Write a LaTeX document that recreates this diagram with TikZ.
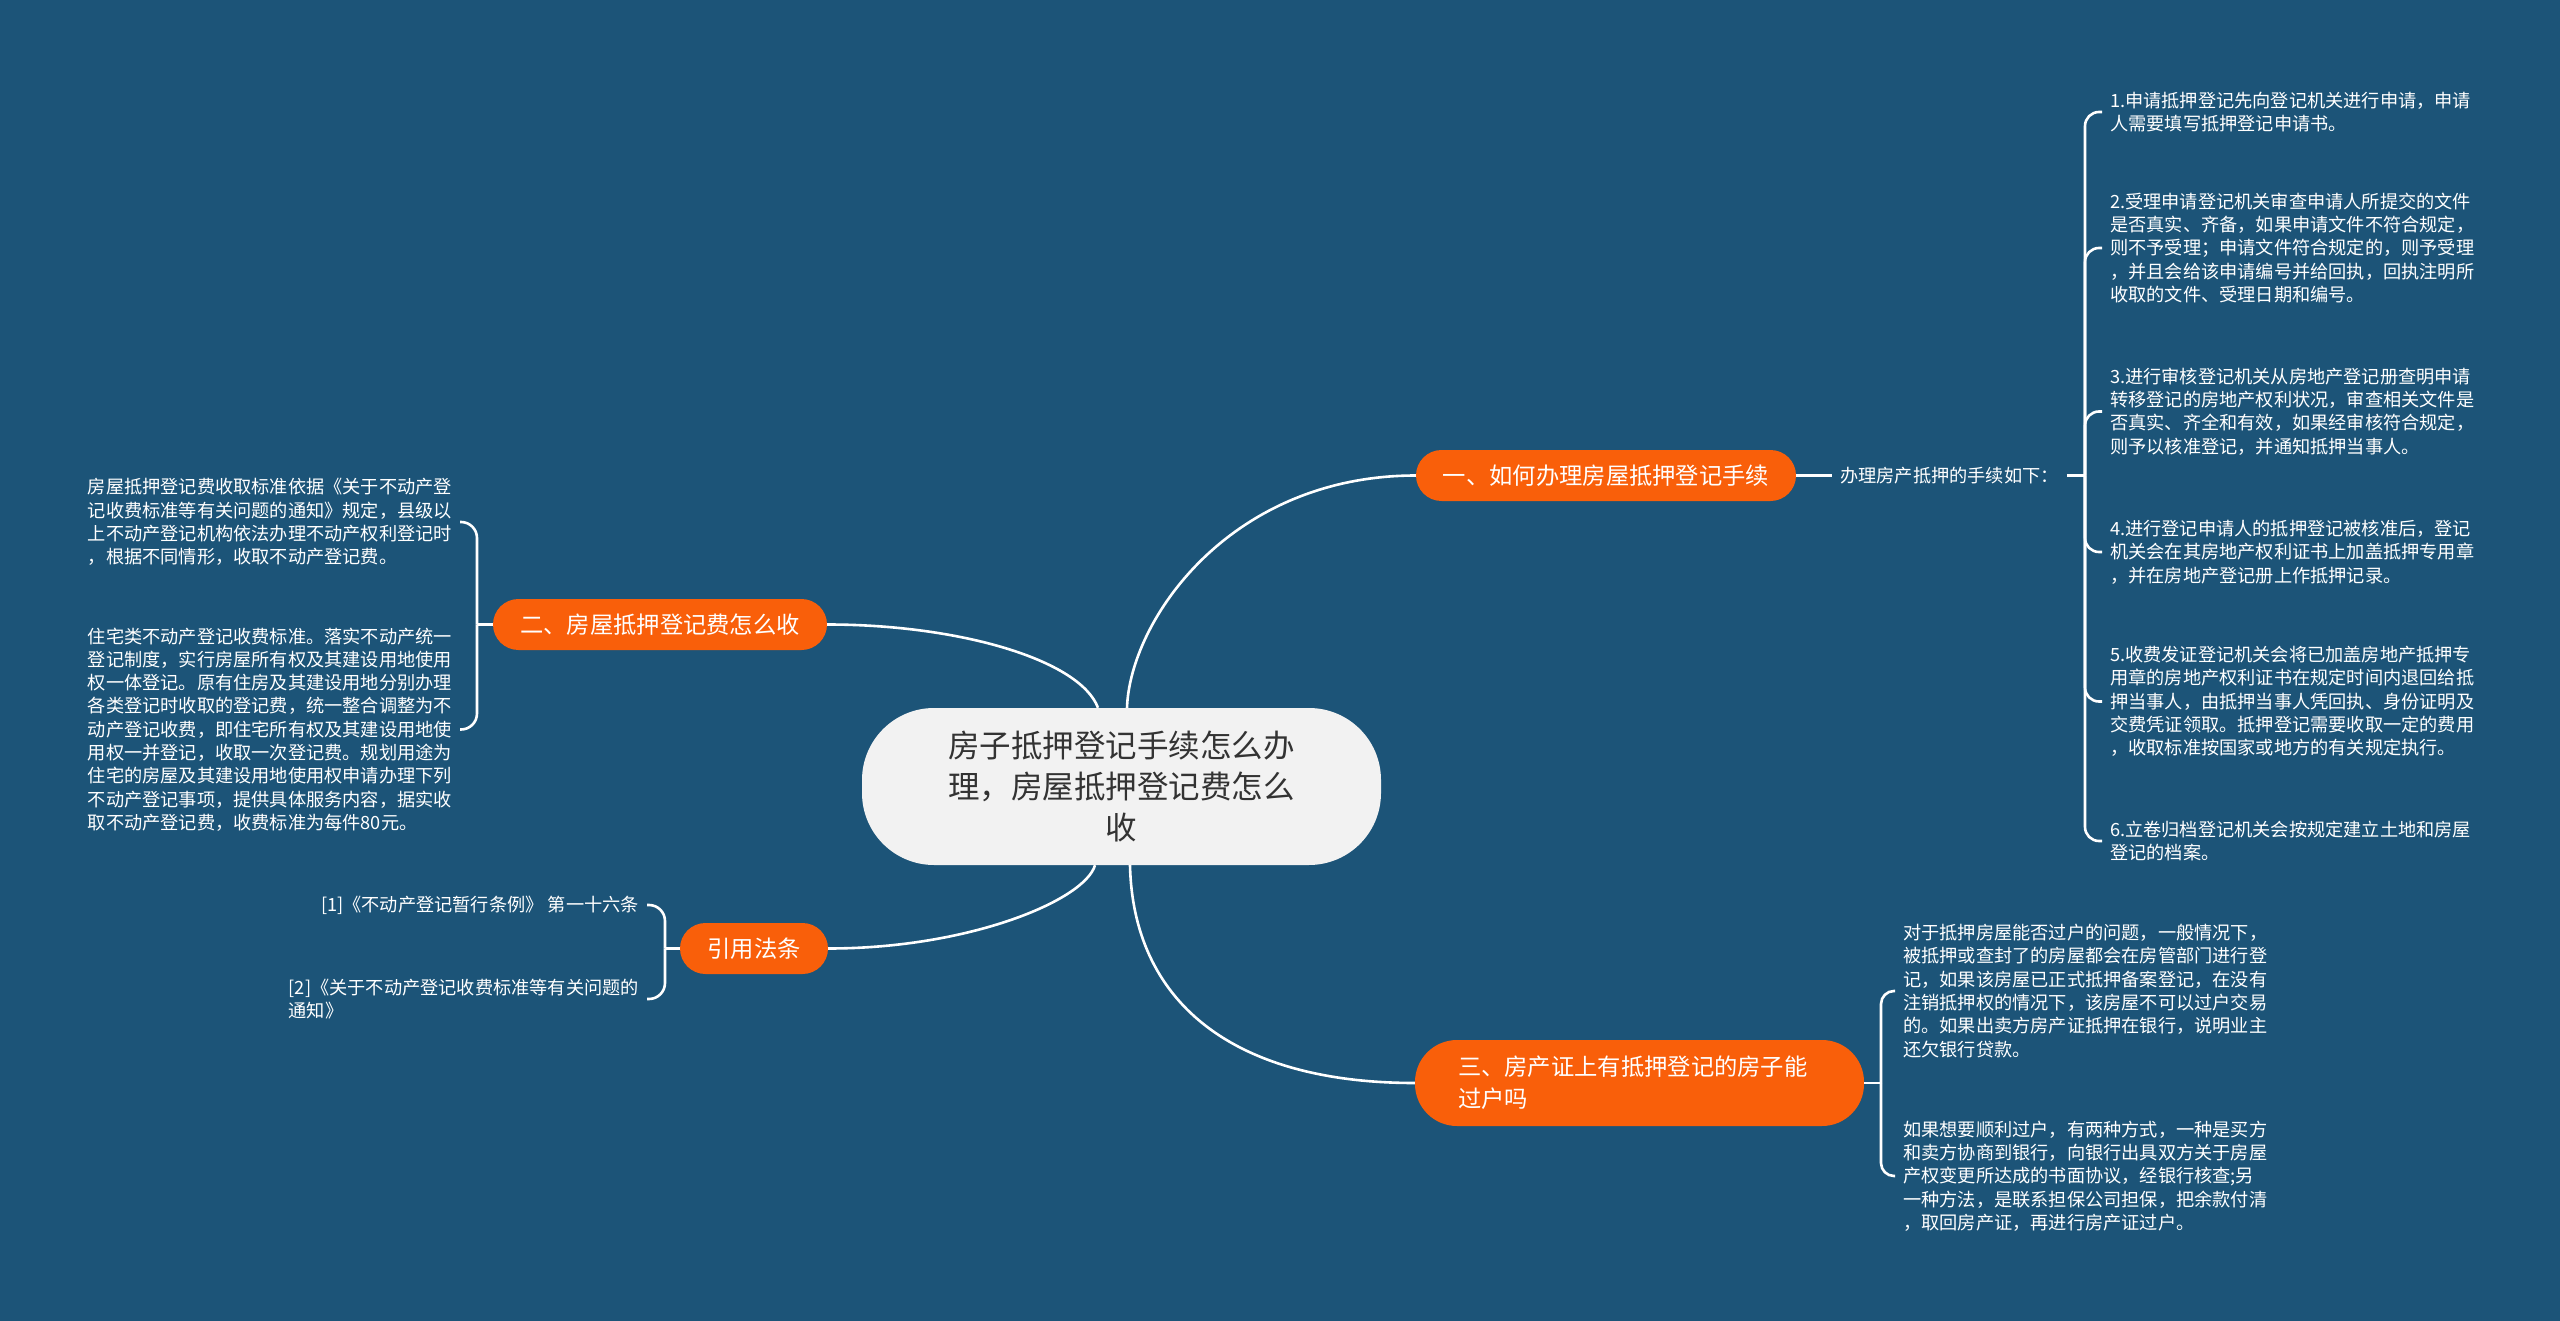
\documentclass[tikz,border=0pt]{standalone}
\usepackage{fontspec}
\setmainfont{Noto Sans CJK SC}
\definecolor{bgblue}{HTML}{1C5478}
\definecolor{orng}{HTML}{F95F0A}
\definecolor{ctrfill}{HTML}{F2F2F2}
\definecolor{ctrtext}{HTML}{333333}
\tikzset{
  ctr/.style={fill=ctrfill, text=ctrtext, font=\fontsize{31.5}{41}\selectfont, align=center,
    minimum width=519, minimum height=157, rounded corners=72, inner sep=0},
  pill/.style={fill=orng, text=white, font=\fontsize{23.3}{32}\selectfont, inner sep=0,
    minimum height=51, rounded corners=25.5},
  leaf/.style={text=white, font=\fontsize{18.2}{23.3}\selectfont, align=left, inner xsep=8, inner ysep=0},
  wire/.style={draw=white, line width=2.6},
  brk/.style={draw=white, line width=2.6, rounded corners=14},
}
\begin{document}
\begin{tikzpicture}[x=1pt,y=-1pt]
\fill[bgblue] (0,0) rectangle (2560,1321);
\useasboundingbox (0,0) rectangle (2560,1321);

% central
\node[ctr] (c) at (1121.5,786.5) {房子抵押登记手续怎么办\\理，房屋抵押登记费怎么\\收};

% main branches
\node[pill, minimum width=380] (p1) at (1606,475.5) {一、如何办理房屋抵押登记手续};
\node[pill, minimum width=334] (p2) at (660,624.5) {二、房屋抵押登记费怎么收};
\node[pill, minimum width=148] (p3) at (754,948.5) {引用法条};
\node[pill, minimum height=86, rounded corners=42, text width=363, inner xsep=43, align=left] (p4) at (1639.5,1083) {三、房产证上有抵押登记的房子能\\过户吗};

% branch 1 children
\node[leaf, anchor=west] (lab) at (1832,475.5) {办理房产抵押的手续如下：};
\coordinate (b1) at (2085,475.5);
\node[leaf, anchor=west] (r1) at (2102,112) {1.申请抵押登记先向登记机关进行申请，申请\\人需要填写抵押登记申请书。};
\node[leaf, anchor=west] (r2) at (2102,248) {2.受理申请登记机关审查申请人所提交的文件\\是否真实、齐备，如果申请文件不符合规定，\\则不予受理；申请文件符合规定的，则予受理\\，并且会给该申请编号并给回执，回执注明所\\收取的文件、受理日期和编号。};
\node[leaf, anchor=west] (r3) at (2102,411.5) {3.进行审核登记机关从房地产登记册查明申请\\转移登记的房地产权利状况，审查相关文件是\\否真实、齐全和有效，如果经审核符合规定，\\则予以核准登记，并通知抵押当事人。};
\node[leaf, anchor=west] (r4) at (2102,552) {4.进行登记申请人的抵押登记被核准后，登记\\机关会在其房地产权利证书上加盖抵押专用章\\，并在房地产登记册上作抵押记录。};
\node[leaf, anchor=west] (r5) at (2102,701.5) {5.收费发证登记机关会将已加盖房地产抵押专\\用章的房地产权利证书在规定时间内退回给抵\\押当事人，由抵押当事人凭回执、身份证明及\\交费凭证领取。抵押登记需要收取一定的费用\\，收取标准按国家或地方的有关规定执行。};
\node[leaf, anchor=west] (r6) at (2102,841) {6.立卷归档登记机关会按规定建立土地和房屋\\登记的档案。};

% branch 2 children
\coordinate (b2) at (477,624.5);
\node[leaf, anchor=east] (l1) at (460,522) {房屋抵押登记费收取标准依据《关于不动产登\\记收费标准等有关问题的通知》规定，县级以\\上不动产登记机构依法办理不动产权利登记时\\，根据不同情形，收取不动产登记费。};
\node[leaf, anchor=east] (l2) at (460,729.5) {住宅类不动产登记收费标准。落实不动产统一\\登记制度，实行房屋所有权及其建设用地使用\\权一体登记。原有住房及其建设用地分别办理\\各类登记时收取的登记费，统一整合调整为不\\动产登记收费，即住宅所有权及其建设用地使\\用权一并登记，收取一次登记费。规划用途为\\住宅的房屋及其建设用地使用权申请办理下列\\不动产登记事项，提供具体服务内容，据实收\\取不动产登记费，收费标准为每件80元。};

% references
\coordinate (b3) at (665,948.5);
\node[leaf, anchor=east] (f1) at (647,905) {[1]《不动产登记暂行条例》 第一十六条};
\node[leaf, anchor=east] (f2) at (647,999) {[2]《关于不动产登记收费标准等有关问题的\\通知》};

% branch 3 children
\coordinate (b4) at (1881,1083);
\node[leaf, anchor=west] (t1) at (1895,991) {对于抵押房屋能否过户的问题，一般情况下，\\被抵押或查封了的房屋都会在房管部门进行登\\记，如果该房屋已正式抵押备案登记，在没有\\注销抵押权的情况下，该房屋不可以过户交易\\的。如果出卖方房产证抵押在银行，说明业主\\还欠银行贷款。};
\node[leaf, anchor=west] (t2) at (1895,1176) {如果想要顺利过户，有两种方式，一种是买方\\和卖方协商到银行，向银行出具双方关于房屋\\产权变更所达成的书面协议，经银行核查;另\\一种方法，是联系担保公司担保，把余款付清\\，取回房产证，再进行房产证过户。};

% main connectors
\draw[wire] ([xshift=5.5]c.north) .. controls (1130,620) and (1230,475.5) .. (p1.west);
\draw[wire] ([xshift=-23.5]c.north) .. controls (1080,660) and (960,624.5) .. (p2.east);
\draw[wire] ([xshift=-26.5]c.south) .. controls (1085,900) and (970,948.5) .. (p3.east);
\draw[wire] ([xshift=8.5]c.south) .. controls (1133,1000) and (1230,1083) .. (p4.west);

% branch 1 wiring
\draw[wire] (p1.east) -- (lab.west);
\draw[wire] (lab.east) -- (b1);
\foreach \n in {r1,r2,r3,r4,r5,r6} \draw[brk] (b1) |- (\n.west);

% branch 2 wiring
\draw[wire] (p2.west) -- (b2);
\foreach \n in {l1,l2} \draw[brk, rounded corners=16] (b2) |- (\n.east);

% references wiring
\draw[wire] (p3.west) -- (b3);
\foreach \n in {f1,f2} \draw[brk, rounded corners=16] (b3) |- (\n.east);

% branch 3 wiring
\draw[wire] (p4.east) -- (b4);
\foreach \n in {t1,t2} \draw[brk, rounded corners=13] (b4) |- (\n.west);
\end{tikzpicture}
\end{document}
